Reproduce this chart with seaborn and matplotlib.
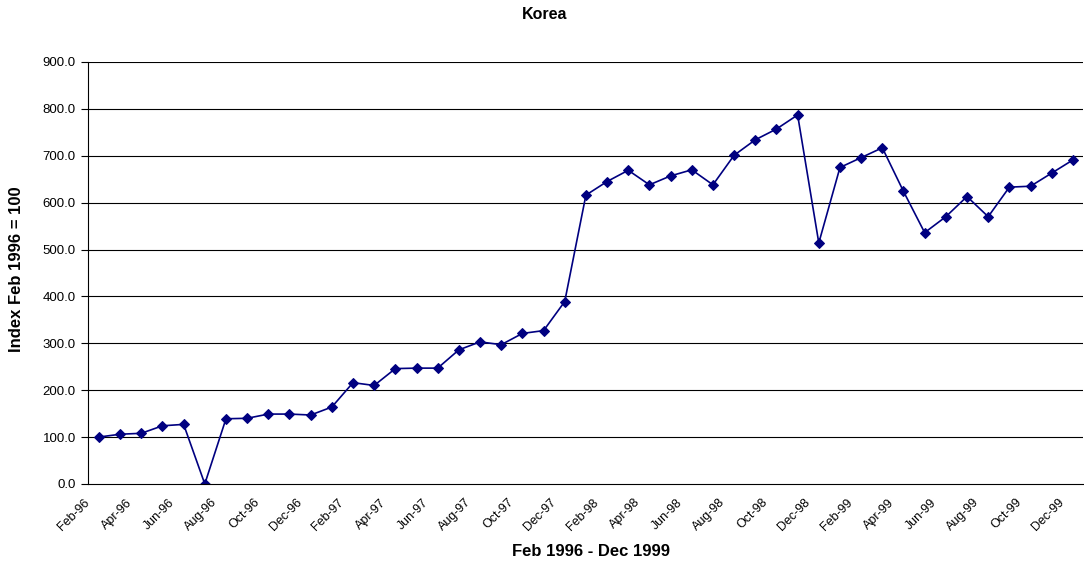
import numpy as np
import pandas as pd
import matplotlib
matplotlib.use("Agg")
import matplotlib.pyplot as plt
import matplotlib.transforms as mtransforms
import seaborn as sns

# monthly index, Feb 1996 = 100
months = ["Feb-96", "Mar-96", "Apr-96", "May-96", "Jun-96", "Jul-96", "Aug-96", "Sep-96",
          "Oct-96", "Nov-96", "Dec-96", "Jan-97", "Feb-97", "Mar-97", "Apr-97", "May-97",
          "Jun-97", "Jul-97", "Aug-97", "Sep-97", "Oct-97", "Nov-97", "Dec-97", "Jan-98",
          "Feb-98", "Mar-98", "Apr-98", "May-98", "Jun-98", "Jul-98", "Aug-98", "Sep-98",
          "Oct-98", "Nov-98", "Dec-98", "Jan-99", "Feb-99", "Mar-99", "Apr-99", "May-99",
          "Jun-99", "Jul-99", "Aug-99", "Sep-99", "Oct-99", "Nov-99", "Dec-99"]
index_vals = [100, 106, 108, 124, 127, 0, 139, 140, 149, 149, 147, 164, 216, 210, 246, 247,
              247, 286, 303, 297, 321, 327, 389, 616, 645, 669, 638, 657, 670, 638, 701, 734,
              757, 787, 514, 675, 696, 717, 624, 536, 570, 613, 570, 633, 635, 663, 691]
yticks = [0, 100, 200, 300, 400, 500, 600, 700, 800, 900]

df = pd.DataFrame({"pos": np.arange(len(months)), "month": months, "value": index_vals})

sns.set_style("white", rc={"text.color": "black", "axes.labelcolor": "black",
                           "xtick.color": "black", "ytick.color": "black"})
plt.rcParams["font.family"] = ["Liberation Sans", "DejaVu Sans"]

fig = plt.figure(figsize=(10.84, 5.66), dpi=100)
ax = fig.add_axes([0.0815, 0.145, 0.918, 0.7455])

sns.lineplot(data=df, x="pos", y="value", ax=ax, color="#000080", marker="D",
             markersize=5.5, markeredgecolor="#000080", linewidth=1.2)

ax.set_xlim(-0.5, len(months) - 0.5)
ax.set_ylim(0, 900)
ax.set_yticks(yticks)
ax.set_yticklabels([f"{v:.1f}" for v in yticks], fontsize=9.5)
for v in yticks[1:]:
    ax.axhline(v, color="black", linewidth=0.8, zorder=0)

# category axis: tick marks between every second month, labels on the months
ax.set_xticks(np.arange(-0.5, len(months), 2), minor=True)
ax.set_xticks(df["pos"][::2])
ax.set_xticklabels(df["month"][::2], rotation=45, ha="right", va="top",
                   rotation_mode="anchor", fontsize=9)
ax.tick_params(axis="x", which="major", length=0, pad=4)
ax.tick_params(axis="x", which="minor", length=4, width=0.8, direction="out")
ax.tick_params(axis="y", length=5, width=0.8, direction="out", pad=4, left=True)

# nudge the rotated month labels like Excel does (after tick_params, which resets transforms)
shift = mtransforms.ScaledTranslation(-0.15, -0.07, fig.dpi_scale_trans)
for lab in ax.get_xticklabels():
    lab.set_transform(lab.get_transform() + shift)

for s in ["top", "right"]:
    ax.spines[s].set_visible(False)
for s in ["left", "bottom"]:
    ax.spines[s].set_color("black")
    ax.spines[s].set_linewidth(0.8)

ax.set_xlabel("Feb 1996 - Dec 1999", fontsize=12, fontweight="bold")
ax.xaxis.set_label_coords(0.505, -0.143)
ax.set_ylabel("Index Feb 1996 = 100", fontsize=12, fontweight="bold")
ax.yaxis.set_label_coords(-0.0645, 0.51)
fig.text(0.502, 0.9735, "Korea", ha="center", va="center", fontsize=11.5, fontweight="bold")

fig.savefig("out.png", dpi=100)
